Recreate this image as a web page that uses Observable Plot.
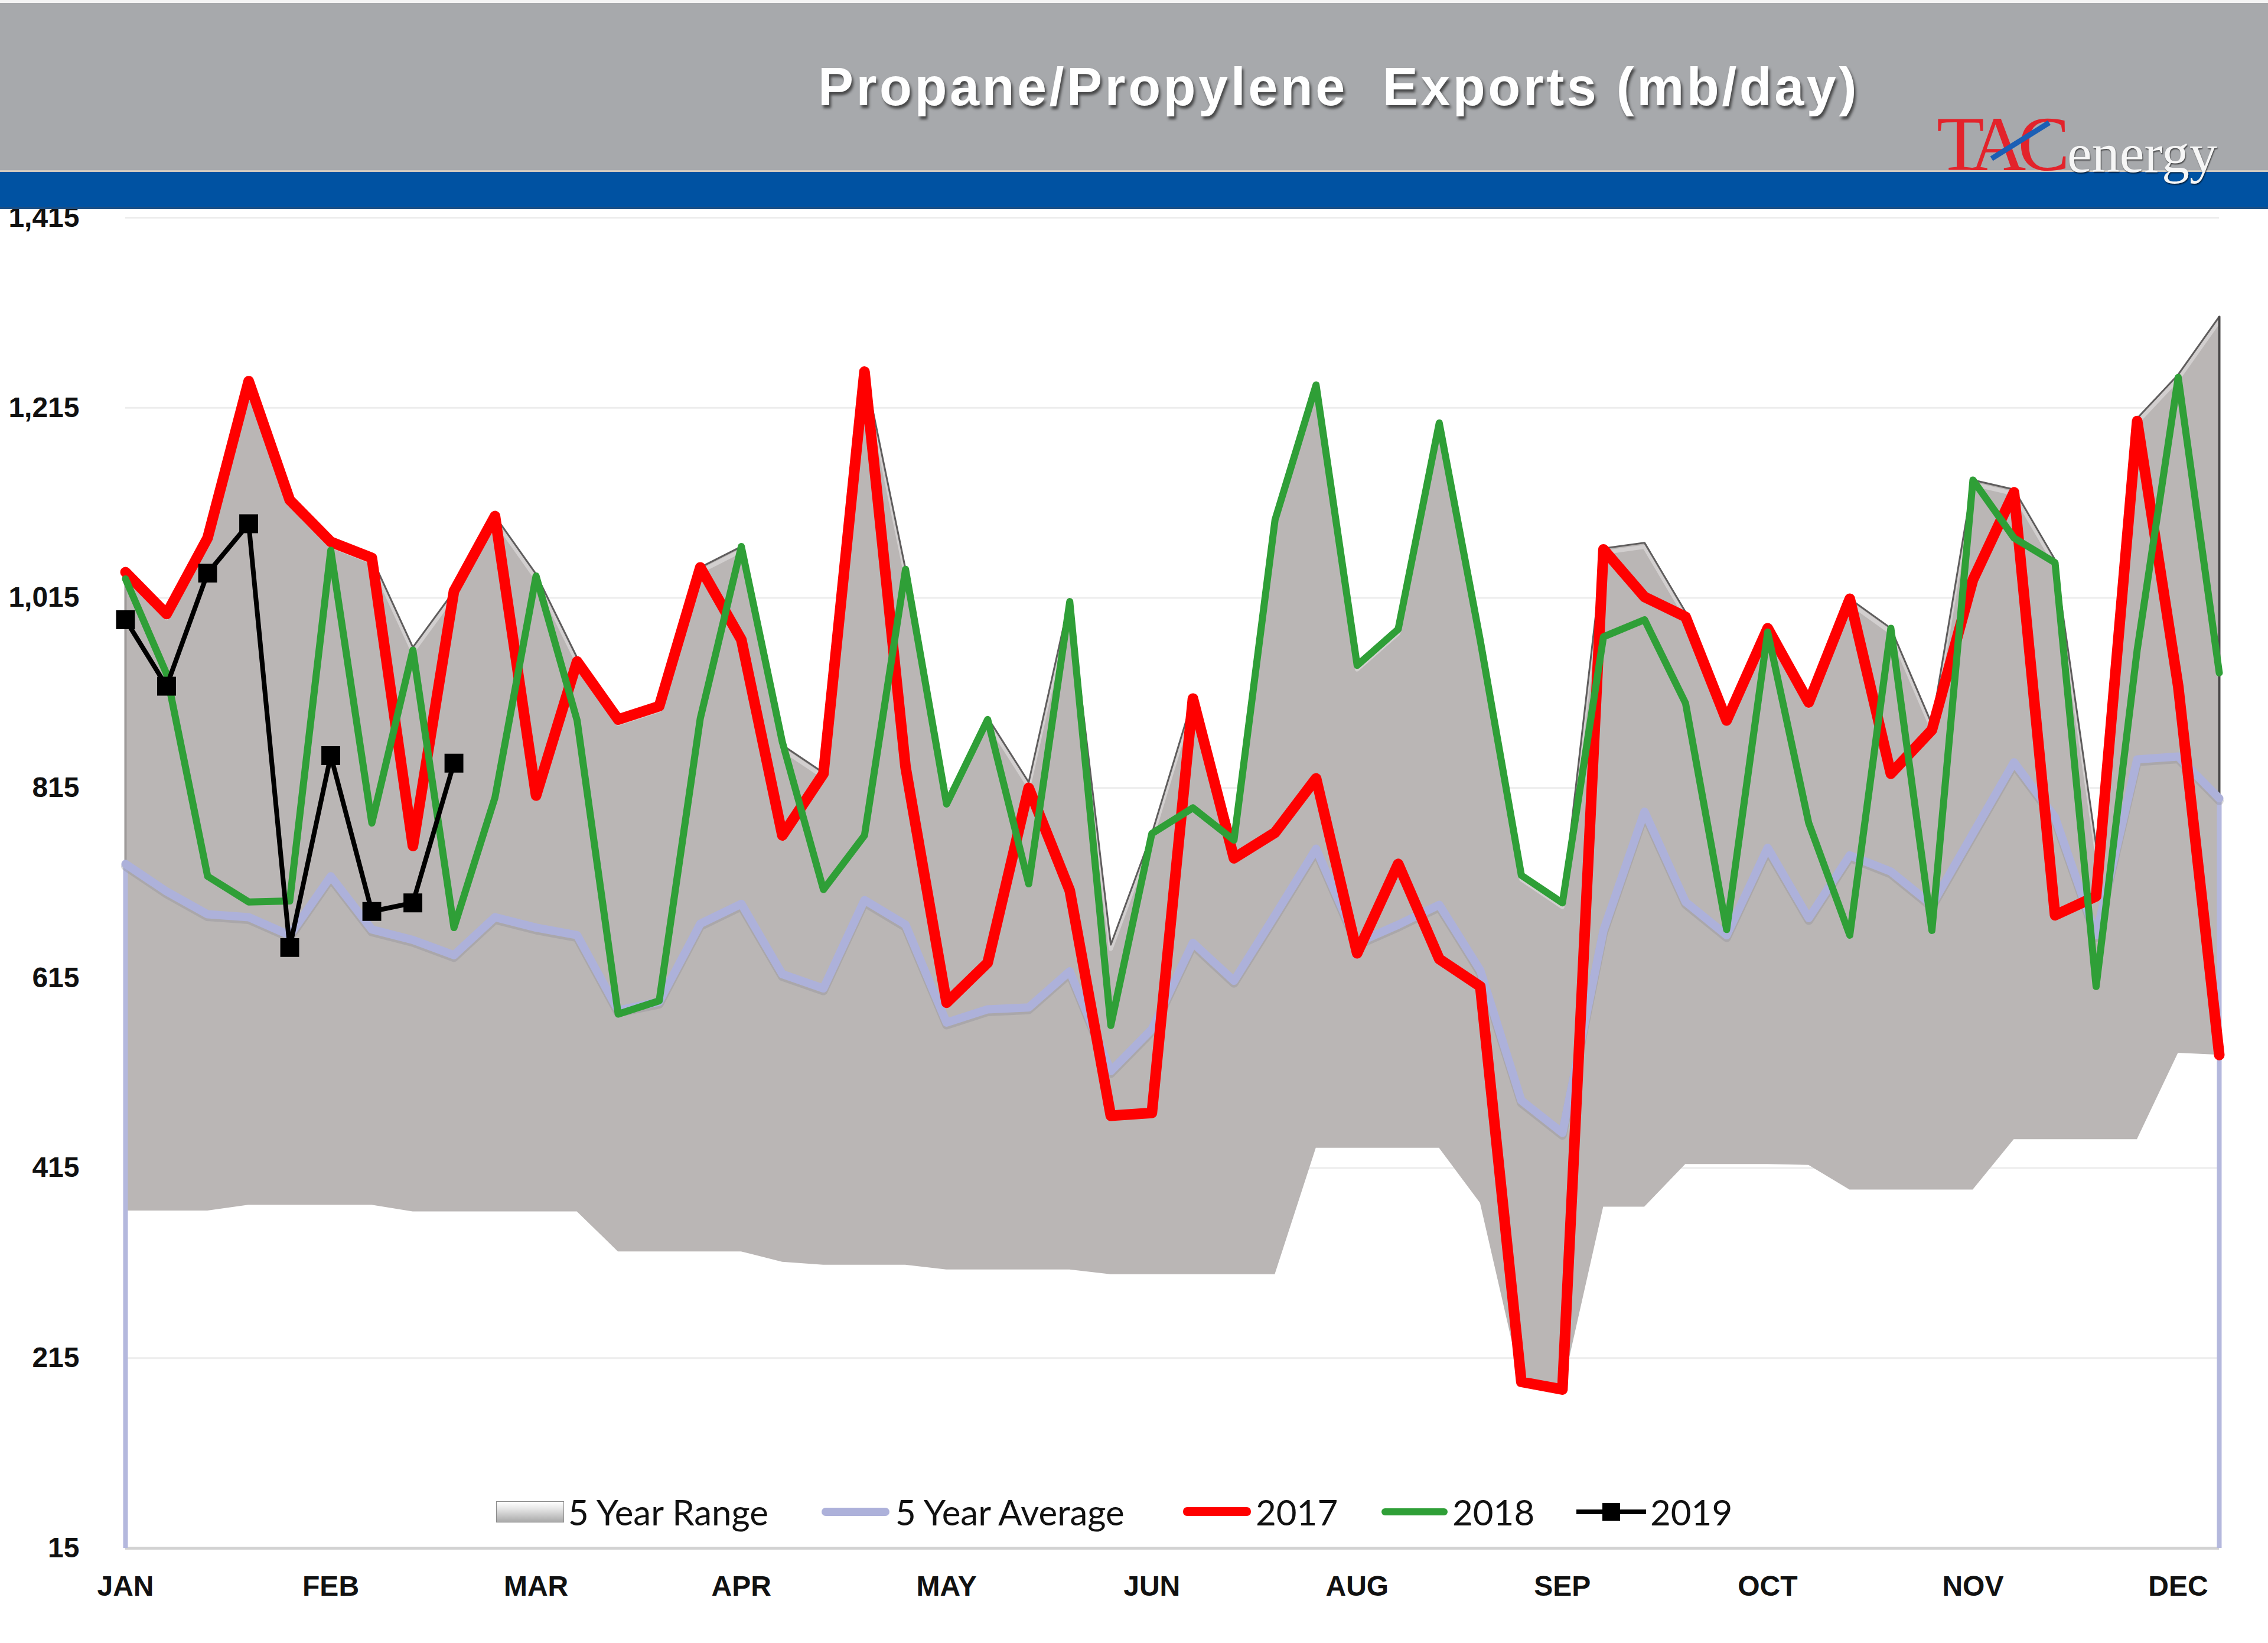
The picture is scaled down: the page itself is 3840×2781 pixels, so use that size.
<!DOCTYPE html>
<html>
<head>
<meta charset="utf-8">
<script src="https://cdn.jsdelivr.net/npm/d3@7"></script>
<script src="https://cdn.jsdelivr.net/npm/@observablehq/plot@0.6"></script>
<style>
  html, body { margin: 0; padding: 0; background: #fff; }
  #wrap { position: relative; width: 3840px; height: 2781px; background: #fff; overflow: hidden; }
  .abs { position: absolute; }
  #header { position: absolute; left: 0; top: 0; width: 3840px; height: 354px; z-index: 2; }
  .lg { position: absolute; font-family: Lato, 'Noto Sans', sans-serif; font-size: 60px; color: #111; line-height: 70px; white-space: nowrap; }
</style>
</head>
<body>
<div id="wrap">
  <div id="chart" class="abs" style="left:0;top:0;z-index:1"></div>
  <div id="header">
    <div class="abs" style="left:0;top:0;width:3840px;height:5px;background:#f4f4f4"></div>
    <div class="abs" style="left:0;top:5px;width:3840px;height:283px;background:#a7a9ac"></div>
    <div class="abs" style="left:0;top:288px;width:3840px;height:3px;background:#cfc9bf"></div>
    <div class="abs" style="left:0;top:291px;width:3840px;height:63px;background:#0052a2"></div>
    <div class="abs" style="left:0;top:350px;width:3840px;height:4px;background:#1a4f86"></div>
    <div id="title" class="abs" style="left:1385px;top:102px;font-family:'Liberation Sans',Arial,sans-serif;font-weight:bold;font-size:90px;line-height:90px;letter-spacing:4.5px;color:#fff;white-space:pre;text-shadow:3px 5px 4px rgba(40,40,40,0.75)">Propane/Propylene  Exports (mb/day)</div>
    <div class="abs" style="left:3279px;top:178px;font-family:'Liberation Serif',serif;font-size:132px;line-height:132px;letter-spacing:-14px;color:#e3232b;white-space:pre">TAC</div>
    <div class="abs" style="left:3372px;top:264px;width:115px;height:9px;background:#1b5fb5;transform:rotate(-32deg);transform-origin:0 50%"></div>
    <div class="abs" style="left:3500px;top:212px;font-family:'Liberation Serif',serif;font-size:94px;line-height:94px;color:#f6f6f6;white-space:pre;text-shadow:1px 2px 2px rgba(0,0,0,0.6)">energy</div>
  </div>

  <div class="abs" style="z-index:3;left:840px;top:2541px;width:113px;height:34px;border:1px solid #8a8a8a;background:linear-gradient(#ffffff 0%, #e6e6e6 35%, #a9a9a9 100%)"></div>
  <div class="lg" style="z-index:3;left:962px;top:2524px">5 Year Range</div>
  <div class="abs" style="z-index:3;left:1391px;top:2552px;width:115px;height:14px;border-radius:7px;background:#adb1da"></div>
  <div class="lg" style="z-index:3;left:1516px;top:2524px">5 Year Average</div>
  <div class="abs" style="z-index:3;left:2003px;top:2551px;width:115px;height:15px;border-radius:7px;background:#ff0000"></div>
  <div class="lg" style="z-index:3;left:2126px;top:2524px">2017</div>
  <div class="abs" style="z-index:3;left:2339px;top:2553px;width:112px;height:12px;border-radius:6px;background:#2f9f37"></div>
  <div class="lg" style="z-index:3;left:2459px;top:2524px">2018</div>
  <div class="abs" style="z-index:3;left:2669px;top:2555px;width:118px;height:8px;background:#000"></div>
  <div class="abs" style="z-index:3;left:2713px;top:2544px;width:30px;height:30px;background:#000"></div>
  <div class="lg" style="z-index:3;left:2794px;top:2524px">2019</div>
</div>
<script>
// ---- data (mb/day), weekly, 52 weeks ----
const weeks = d3.range(52);
const yTicks = [15, 215, 415, 615, 815, 1015, 1215, 1415];
const monthTicks = [0, 5, 10, 15, 20, 25, 30, 35, 40, 45, 50];
const monthLabels = ["JAN", "FEB", "MAR", "APR", "MAY", "JUN", "AUG", "SEP", "OCT", "NOV", "DEC"];

const rangeLow = [370, 370, 370, 376, 376, 376, 376, 369, 369, 369, 369, 369, 327, 327, 327, 327,
  316, 313, 313, 313, 308, 308, 308, 308, 303, 303, 303, 303, 303, 436, 436, 436, 436, 378, 190, 182,
  374, 374, 419, 419, 419, 418, 392, 392, 392, 392, 445, 445, 445, 445, 536, 534];
const rangeHigh = [1042, 998, 1078, 1243, 1118, 1074, 1057, 963, 1022, 1101, 1040, 952, 887, 901, 1047, 1069,
  860, 831, 1255, 1045, 800, 889, 821, 1014, 650, 767, 909, 762, 1097, 1239, 944, 982, 1199, 975, 723, 694,
  1067, 1073, 1000, 888, 983, 905, 1014, 983, 882, 1139, 1129, 1055, 755, 1204, 1250, 1311];
const avg5 = [735, 706, 682, 679, 660, 722, 666, 655, 639, 679, 668, 660, 581, 590, 672, 693,
  619, 604, 697, 671, 568, 582, 584, 622, 517, 561, 652, 612, 681, 751, 652, 671, 692, 623, 486, 452,
  665, 790, 695, 660, 752, 678, 744, 727, 692, 767, 842, 784, 660, 845, 848, 804];
const y2017 = [1042, 998, 1078, 1243, 1118, 1074, 1057, 754, 1022, 1101, 807, 948, 887, 901, 1047, 971,
  765, 830, 1253, 837, 589, 631, 815, 707, 470, 473, 909, 741, 768, 825, 641, 735, 635, 606, 190, 182,
  1066, 1016, 995, 886, 983, 905, 1014, 830, 876, 1034, 1126, 681, 701, 1201, 922, 534];
const y2018 = [1035, 935, 722, 695, 696, 1065, 778, 960, 668, 805, 1038, 886, 577, 591, 888, 1069,
  863, 708, 765, 1045, 798, 887, 714, 1011, 565, 767, 794, 760, 1097, 1239, 944, 982, 1199, 970, 723, 694,
  974, 992, 904, 666, 979, 778, 660, 983, 665, 1139, 1078, 1052, 606, 960, 1247, 936];
const y2019 = [992, 922, 1041, 1093, 647, 849, 685, 694, 841];

const table = weeks.map(i => ({
  i, low: rangeLow[i], high: rangeHigh[i], avg: avg5[i], v2017: y2017[i], v2018: y2018[i]
}));
const t2019 = y2019.map((v, i) => ({i, v}));
const ends = [table[0], table[table.length - 1]];

const chart = Plot.plot({
  width: 3840,
  height: 2781,
  marginTop: 368,
  marginBottom: 161,
  marginLeft: 212,
  marginRight: 83,
  x: {domain: [0, 51]},
  y: {domain: [15, 1415]},
  style: {fontFamily: "'Liberation Sans', Arial, sans-serif", background: "transparent", overflow: "hidden", color: "#111"},
  marks: [
    Plot.ruleY(yTicks.slice(1), {stroke: "#ededed", strokeWidth: 3}),
    Plot.areaY(table, {x: "i", y1: "low", y2: "high", fill: "#bab6b5"}),
    Plot.lineY(table, {x: "i", y: "high", stroke: "#ffffff", strokeOpacity: 0.35, strokeWidth: 7, dy: 7}),
    Plot.lineY(table, {x: "i", y: "high", stroke: "#5f5d5d", strokeWidth: 3}),
    Plot.ruleX([table[0]], {x: "i", y1: "low", y2: "high", stroke: "#9e9a99", strokeWidth: 4}),
    Plot.ruleX([table[51]], {x: "i", y1: "low", y2: "high", stroke: "#4a4848", strokeWidth: 4}),
    Plot.ruleY([15], {stroke: "#d2d2d2", strokeWidth: 5}),
    Plot.ruleX(ends, {x: "i", y1: 15, y2: "avg", stroke: "#b4b8dd", strokeWidth: 8}),
    Plot.lineY(table, {x: "i", y: "avg", stroke: "#8d8b95", strokeOpacity: 0.35, strokeWidth: 15, dy: 4, strokeLinejoin: "round"}),
    Plot.lineY(table, {x: "i", y: "avg", stroke: "#adb1da", strokeWidth: 14, strokeLinejoin: "round"}),
    Plot.lineY(table, {x: "i", y: "v2017", stroke: "#ff0000", strokeWidth: 18, strokeLinejoin: "round"}),
    Plot.lineY(table, {x: "i", y: "v2018", stroke: "#2f9f37", strokeWidth: 12, strokeLinejoin: "round"}),
    Plot.lineY(t2019, {x: "i", y: "v", stroke: "#000000", strokeWidth: 8}),
    Plot.dot(t2019, {x: "i", y: "v", symbol: "square", r: 18, fill: "#000000", stroke: "none"}),
    Plot.axisY(yTicks, {tickSize: 0, tickPadding: 78, tickFormat: d3.format(","), fontSize: 48, fontWeight: "bold", fill: "#111", label: null}),
    Plot.axisX(monthTicks, {tickSize: 0, tickPadding: 46, tickFormat: d => monthLabels[monthTicks.indexOf(d)], fontSize: 48, fontWeight: "bold", fill: "#111", label: null})
  ]
});
document.getElementById("chart").appendChild(chart);
</script>
</body>
</html>
